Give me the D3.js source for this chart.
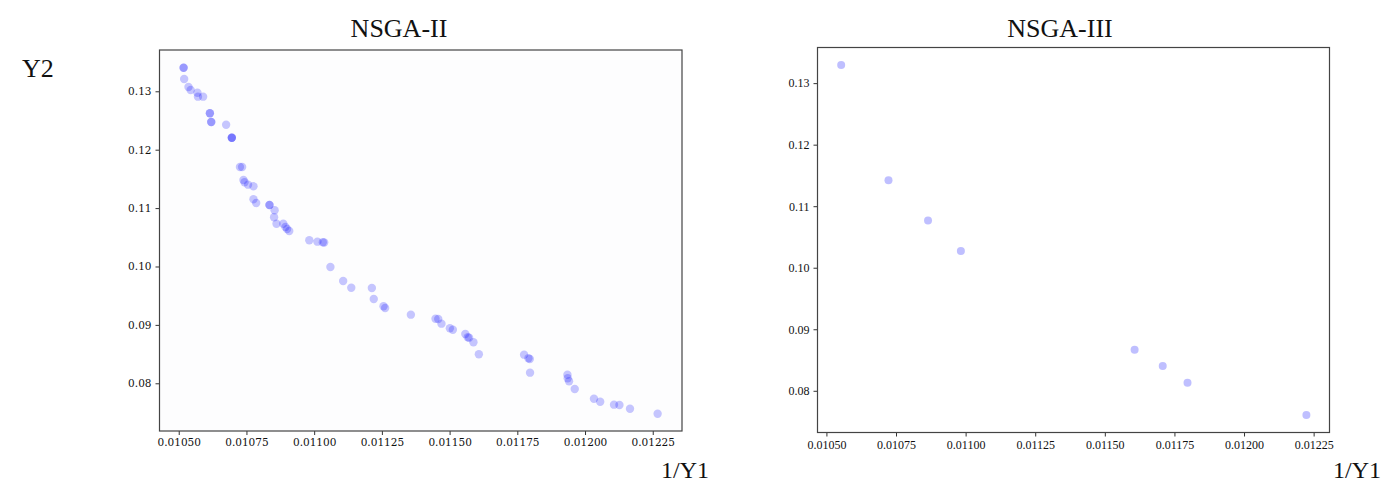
<!DOCTYPE html>
<html>
<head>
<meta charset="utf-8">
<script src="https://cdn.jsdelivr.net/npm/d3@7"></script>
<style>
  body { margin: 0; background: #fff; }
  svg text { fill: #111; }
</style>
</head>
<body>
<svg id="chart"></svg>
<script>
// NSGA-II front (1/Y1, Y2)
const nsga2X = [0.010518, 0.010518, 0.010520, 0.010536, 0.010544, 0.010569, 0.010571, 0.010590, 0.010615, 0.010615,
  0.010620, 0.010620, 0.010675, 0.010696, 0.010696, 0.010696, 0.010726, 0.010734, 0.010739, 0.010743,
  0.010756, 0.010776, 0.010776, 0.010786, 0.010835, 0.010835, 0.010854, 0.010852, 0.010861, 0.010886,
  0.010894, 0.010900, 0.010908, 0.010982, 0.011012, 0.011032, 0.011037, 0.011060, 0.011107, 0.011137,
  0.011213, 0.011220, 0.011256, 0.011262, 0.011357, 0.011448, 0.011458, 0.011470, 0.011501, 0.011512,
  0.011558, 0.011567, 0.011572, 0.011588, 0.011608, 0.011775, 0.011791, 0.011796, 0.011797, 0.011935,
  0.011936, 0.011941, 0.011962, 0.012033, 0.012056, 0.012107, 0.012127, 0.012166, 0.012268];
const nsga2Y = [0.13404, 0.13404, 0.13211, 0.13074, 0.13022, 0.12976, 0.12908, 0.12908, 0.12623, 0.12623,
  0.12474, 0.12474, 0.12428, 0.12205, 0.12205, 0.12205, 0.11704, 0.11704, 0.11481, 0.11442,
  0.11401, 0.11373, 0.11151, 0.11087, 0.11053, 0.11053, 0.10962, 0.10842, 0.10733, 0.10733,
  0.10676, 0.10642, 0.10608, 0.10449, 0.10425, 0.10414, 0.10411, 0.09991, 0.09752, 0.09637,
  0.09632, 0.09443, 0.09318, 0.09289, 0.09175, 0.09106, 0.09101, 0.09021, 0.08942, 0.08918,
  0.08844, 0.08788, 0.08781, 0.08702, 0.08497, 0.08490, 0.08428, 0.08416, 0.08182, 0.08147,
  0.08086, 0.08034, 0.07902, 0.07736, 0.07685, 0.07634, 0.07628, 0.07565, 0.07479];

// NSGA-III front
const nsga3X = [0.010553, 0.010723, 0.010865, 0.010983, 0.011607, 0.011708, 0.011797, 0.012224];
const nsga3Y = [0.13293, 0.11423, 0.10766, 0.10270, 0.08668, 0.08403, 0.08130, 0.07605];

// ticks
const xTicks = [0.0105, 0.01075, 0.011, 0.01125, 0.0115, 0.01175, 0.012, 0.01225];
const yTicks = [0.08, 0.09, 0.10, 0.11, 0.12, 0.13];

const width = 1381, height = 486;

const svg = d3.select("#chart")
    .attr("width", width)
    .attr("height", height);

function drawPanel(opts) {
    const data = opts.xs.map((x, i) => ({x: x, y: opts.ys[i]}));

    const xScale = d3.scaleLinear()
        .domain(opts.xDomain)
        .range([opts.left, opts.right]);

    const yScale = d3.scaleLinear()
        .domain(opts.yDomain)
        .range([opts.bottom, opts.top]);

    const g = svg.append("g");

    // plot area
    g.append("rect")
        .attr("x", opts.left)
        .attr("y", opts.top)
        .attr("width", opts.right - opts.left)
        .attr("height", opts.bottom - opts.top)
        .attr("fill", opts.bg);

    // points
    g.selectAll("circle")
        .data(data)
        .enter().append("circle")
        .attr("cx", d => xScale(d.x))
        .attr("cy", d => yScale(d.y))
        .attr("r", opts.r)
        .attr("fill", "blue")
        .attr("fill-opacity", opts.alpha);

    // axes
    const xAxis = g.append("g")
        .attr("transform", `translate(0,${opts.bottom})`)
        .call(d3.axisBottom(xScale).tickValues(xTicks).tickFormat(d3.format(".5f")).tickSizeOuter(0).tickSize(4).tickPadding(4));

    const yAxis = g.append("g")
        .attr("transform", `translate(${opts.left},0)`)
        .call(d3.axisLeft(yScale).tickValues(yTicks).tickFormat(d3.format(".2f")).tickSizeOuter(0).tickSize(4).tickPadding(4));

    [xAxis, yAxis].forEach(a => {
        a.select(".domain").remove();
        a.selectAll("line").attr("stroke", "#333");
        a.selectAll("text")
            .style("font-family", opts.tickFont)
            .style("font-size", opts.tickSize + "px")
            .attr("fill", "#222");
    });

    // frame
    g.append("rect")
        .attr("x", opts.left)
        .attr("y", opts.top)
        .attr("width", opts.right - opts.left)
        .attr("height", opts.bottom - opts.top)
        .attr("fill", "none")
        .attr("stroke", "#444")
        .attr("stroke-width", 1.2);

    // title
    g.append("text")
        .attr("x", opts.titleX)
        .attr("y", 37)
        .attr("text-anchor", "middle")
        .style("font-family", "Liberation Serif, serif")
        .style("font-size", "26px")
        .text(opts.title);

    // x label
    g.append("text")
        .attr("x", opts.xLabelX)
        .attr("y", 478)
        .attr("text-anchor", "end")
        .style("font-family", "Liberation Serif, serif")
        .style("font-size", "24px")
        .text("1/Y1");
}

drawPanel({
    title: "NSGA-II", titleX: 399, xLabelX: 709,
    xs: nsga2X, ys: nsga2Y,
    xDomain: [0.010429, 0.012358], yDomain: [0.07183, 0.13707],
    left: 159.5, right: 682, top: 50, bottom: 431,
    bg: "#fdfdfe", r: 4.2, alpha: 0.22,
    tickFont: "DejaVu Serif, serif", tickSize: 10.5
});

drawPanel({
    title: "NSGA-III", titleX: 1060, xLabelX: 1381,
    xs: nsga3X, ys: nsga3Y,
    xDomain: [0.010468, 0.012307], yDomain: [0.07322, 0.13579],
    left: 817.5, right: 1329.5, top: 47.5, bottom: 432.5,
    bg: "#ffffff", r: 4, alpha: 0.25,
    tickFont: "Liberation Serif, serif", tickSize: 12
});

// y label
svg.append("text")
    .attr("x", 22)
    .attr("y", 77)
    .style("font-family", "Liberation Serif, serif")
    .style("font-size", "26px")
    .text("Y2");
</script>
</body>
</html>
